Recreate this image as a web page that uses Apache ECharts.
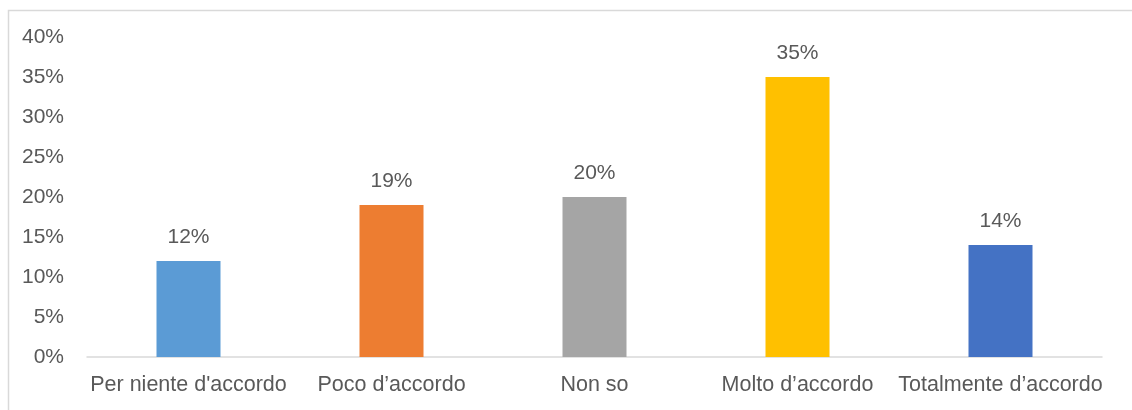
<!DOCTYPE html>
<html>
<head>
<meta charset="utf-8">
<script src="https://cdn.jsdelivr.net/npm/echarts@6/dist/echarts.min.js"></script>
<style>
html,body{margin:0;padding:0;background:#fff;}
#c{width:1132px;height:410px;}
</style>
</head>
<body>
<div id="c"></div>
<script>
const categories = ["Per niente d'accordo", "Poco d\u2019accordo", "Non so", "Molto d\u2019accordo", "Totalmente d\u2019accordo"];
const values = [12, 19, 20, 35, 14];
const barColors = ["#5B9BD5", "#ED7D31", "#A5A5A5", "#FFC000", "#4472C4"];
const yTicks = [0, 5, 10, 15, 20, 25, 30, 35, 40];

const chart = echarts.init(document.getElementById('c'), null, {renderer: 'canvas'});
const font = "'Liberation Sans', Arial, sans-serif";
chart.setOption({
  animation: false,
  backgroundColor: '#fff',
  graphic: [{
    type: 'rect', left: 6, top: 8, z: -1,
    shape: {width: 1140, height: 420},
    style: {fill: 'none', stroke: '#D9D9D9', lineWidth: 1.5}
  }],
  grid: {left: 87, right: 30, top: 37, bottom: 53, containLabel: false},
  xAxis: {
    type: 'category',
    data: categories,
    axisLine: {lineStyle: {color: '#D9D9D9', width: 1.5}},
    axisTick: {show: false},
    axisLabel: {color: '#595959', fontSize: 21.5, fontFamily: font, margin: 17, interval: 0}
  },
  yAxis: {
    type: 'value',
    min: yTicks[0], max: yTicks[yTicks.length - 1], interval: 5,
    axisLine: {show: false},
    axisTick: {show: false},
    splitLine: {show: false},
    axisLabel: {color: '#595959', fontSize: 21, fontFamily: font, margin: 23, formatter: v => v + '%'}
  },
  series: [{
    type: 'bar',
    barWidth: 64,
    data: values.map((v, i) => ({value: v, itemStyle: {color: barColors[i]}})),
    label: {show: true, position: 'top', distance: 13, color: '#595959', fontSize: 21, fontFamily: font, formatter: p => p.value + '%'}
  }]
});
</script>
</body>
</html>
